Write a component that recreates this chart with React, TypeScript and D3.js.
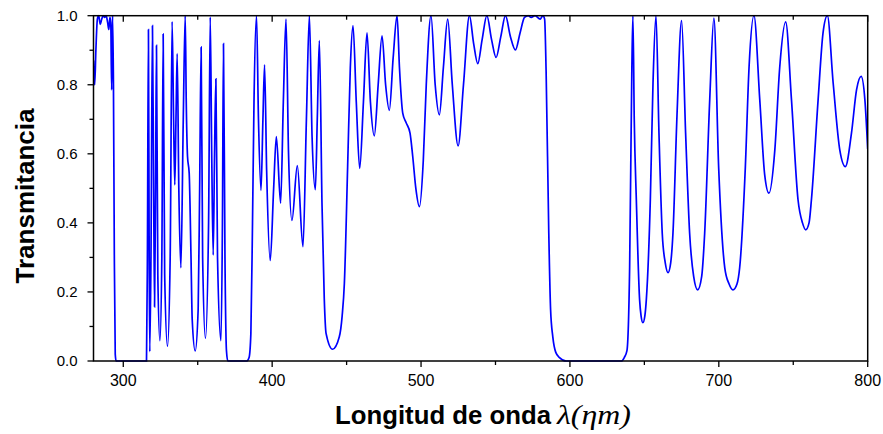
import React from "react";
import * as d3 from "d3";

const wavelength: number[] = [
  280.0, 280.8, 281.6, 282.6, 283.5, 284.5, 285.5, 286.5, 287.5, 288.5, 289.5, 290.3, 291.0, 291.6, 292.2, 292.8, 293.4, 294.0, 294.6, 295.2,
  315.6, 316.2, 316.9, 317.4, 317.8, 318.6, 319.6, 320.4, 321.0, 321.7, 322.3, 323.2, 324.6, 325.9, 326.8, 327.8, 329.7, 331.5, 332.8, 333.8,
  334.6, 335.4, 336.2, 337.3, 338.7, 340.3, 341.6, 342.3, 343.15, 344.27, 345.5, 346.3, 348.3, 350.3, 351.3, 352.3, 353.3, 355.2, 357.3, 358.4,
  359.4, 360.4, 361.3, 362.2, 363.3, 365.6, 366.6, 367.3, 368.3, 369.3, 370.2,
  383.0, 384.5, 385.7, 386.8, 387.8, 389.5, 390.8, 392.5, 393.8, 394.9, 396.3, 398.7, 401.0, 402.8, 405.7, 407.5, 409.3, 411.0, 413.3, 416.9,
  420.7, 423.0, 425.0, 426.8, 429.0, 430.3, 431.7, 433.5, 435.0, 436.2, 440.6, 445.1, 447.0, 448.5, 450.7, 452.5, 454.3, 456.5, 458.8, 461.3,
  463.7, 466.0, 468.6, 471.2, 473.8, 476.2, 478.7, 481.3, 483.9, 485.5, 487.7, 490.0, 492.6, 494.4, 496.5, 498.9, 501.5, 503.5, 506.7, 509.5,
  512.3, 515.0, 517.9, 521.0, 524.9, 528.5, 532.5, 535.3, 538.1, 541.0, 544.2, 547.4, 550.4, 553.6, 556.7, 560.0, 563.4, 566.5, 569.5, 572.0,
  574.0, 576.5, 580.0, 581.8, 583.0, 584.0, 585.8, 587.0, 588.5, 590.5, 593.0, 597.5,
  634.5, 636.5, 638.3, 640.1, 641.6, 642.3, 643.2, 644.6, 646.8, 647.8, 649.0, 650.3, 651.3, 654.0, 655.8, 657.8, 659.8, 662.0, 664.0, 665.9,
  667.7, 669.2, 671.9, 675.0, 677.7, 680.4, 683.1, 685.8, 688.5, 690.5, 693.9, 696.7, 699.9, 704.0, 706.9, 709.5, 712.2, 714.0, 717.8, 720.3,
  723.6, 727.5, 730.8, 733.7, 737.6, 740.9, 744.9, 748.8, 753.2, 756.2, 758.4, 760.6, 762.2, 766.7, 770.0, 772.9, 776.8, 781.3, 785.0, 789.1,
  792.5, 795.6, 798.1, 800.0,
];

const transmittance: number[] = [
  0.87, 0.80, 0.90, 0.99, 1.0, 0.975, 0.99, 1.0, 0.995, 1.0, 0.98, 0.96, 0.995, 0.98, 0.785, 1.0, 0.8, 0.3, 0.02, 0.0,
  0.0, 0.3, 0.96, 0.3, 0.027, 0.3, 0.971, 0.5, 0.157, 0.5, 0.914, 0.25, 0.059, 0.3, 0.947, 0.25, 0.043, 0.3, 0.983, 0.7,
  0.51, 0.7, 0.89, 0.5, 0.27, 0.7, 1.0, 0.75, 0.592, 0.544, 0.3, 0.12, 0.029, 0.15, 0.5, 0.909, 0.3, 0.066, 0.4, 0.996,
  0.6, 0.307, 0.6, 0.817, 0.3, 0.059, 0.4, 0.919, 0.3, 0.03, 0.0,
  0.0, 0.01, 0.08, 0.4, 0.75, 1.0, 0.7, 0.494, 0.7, 0.858, 0.55, 0.291, 0.5, 0.65, 0.457, 0.75, 0.99, 0.6, 0.407, 0.566,
  0.331, 0.7, 1.0, 0.65, 0.496, 0.7, 0.928, 0.45, 0.18, 0.08, 0.034, 0.07, 0.13, 0.225, 0.563, 0.85, 0.971, 0.75, 0.558, 0.75,
  0.95, 0.75, 0.652, 0.8, 0.942, 0.8, 0.726, 0.88, 1.0, 0.85, 0.718, 0.69, 0.66, 0.593, 0.5, 0.447, 0.58, 0.8, 1.0, 0.8,
  0.713, 0.85, 0.99, 0.8, 0.623, 0.8, 1.0, 0.92, 0.861, 0.93, 1.0, 0.93, 0.879, 0.94, 1.0, 0.94, 0.901, 0.95, 0.995, 1.0,
  0.995, 1.0, 0.99, 1.0, 0.99, 0.84, 0.37, 0.15, 0.07, 0.025, 0.01, 0.0,
  0.0, 0.01, 0.03, 0.27, 0.85, 1.0, 0.7, 0.467, 0.177, 0.13, 0.111, 0.13, 0.177, 0.467, 0.805, 1.0, 0.66, 0.37, 0.285, 0.256,
  0.285, 0.37, 0.71, 0.986, 0.66, 0.37, 0.245, 0.206, 0.245, 0.37, 0.757, 0.993, 0.56, 0.27, 0.223, 0.206, 0.223, 0.27, 0.56, 0.85,
  1.0, 0.757, 0.54, 0.486, 0.61, 0.85, 0.982, 0.757, 0.467, 0.40, 0.38, 0.40, 0.467, 0.757, 0.95, 1.0, 0.805, 0.61, 0.563, 0.66,
  0.785, 0.824, 0.757, 0.614,
];

const xTickValues: number[] = [300, 400, 500, 600, 700, 800];
const xMinorValues: number[] = [350, 450, 550, 650, 750];
const yTickValues: number[] = [0.0, 0.2, 0.4, 0.6, 0.8, 1.0];
const yMinorValues: number[] = [0.1, 0.3, 0.5, 0.7, 0.9];
const yTitle = "Transmitancia";
const xTitle = "Longitud de onda";
const xTitleUnit = "λ(ηm)";

const W = 883;
const H = 434;
const left = 93.5;
const right = 867.7;
const top = 15.7;
const bottom = 361;

export default function App() {
  const x = d3.scaleLinear().domain([280, 800]).range([left, right]);
  const y = d3.scaleLinear().domain([0, 1]).range([bottom, top]);
  const pts: [number, number][] = wavelength.map((w, i) => [w, transmittance[i]]);
  const line = d3
    .line<[number, number]>()
    .x((d) => x(d[0]))
    .y((d) => y(d[1]))
    .curve(d3.curveMonotoneX);
  const font = "'Liberation Sans', Arial, sans-serif";
  return (
    <div style={{ position: "absolute", left: 0, top: 0 }}>
      <svg width={W} height={H} style={{ display: "block", background: "#fff" }}>
        <defs>
          <clipPath id="plotclip">
            <rect x={left} y={top - 1} width={right - left} height={bottom - top + 2} />
          </clipPath>
        </defs>
        <path d={line(pts) || ""} fill="none" stroke="#0000ff" strokeWidth={1.7} clipPath="url(#plotclip)" />
        <rect x={left} y={top} width={right - left} height={bottom - top} fill="none" stroke="#000" strokeWidth={1.5} />
        {xTickValues.map((v) => (
          <g key={"xt" + v}>
            <line x1={x(v)} x2={x(v)} y1={bottom} y2={bottom + 6} stroke="#000" strokeWidth={1.3} />
            <line x1={x(v)} x2={x(v)} y1={top} y2={top + 6} stroke="#000" strokeWidth={1.3} />
            <text x={x(v)} y={386} textAnchor="middle" fontFamily={font} fontSize={16} fill="#000">
              {v}
            </text>
          </g>
        ))}
        {xMinorValues.map((v) => (
          <g key={"xm" + v}>
            <line x1={x(v)} x2={x(v)} y1={bottom} y2={bottom + 4} stroke="#000" strokeWidth={1.3} />
            <line x1={x(v)} x2={x(v)} y1={top} y2={top + 4} stroke="#000" strokeWidth={1.3} />
          </g>
        ))}
        {yTickValues.map((v) => (
          <g key={"yt" + v}>
            <line x1={left - 6} x2={left} y1={y(v)} y2={y(v)} stroke="#000" strokeWidth={1.3} />
            <text x={77.5} y={y(v) + 5.3} textAnchor="end" fontFamily={font} fontSize={15} fill="#000">
              {v.toFixed(1)}
            </text>
          </g>
        ))}
        {yMinorValues.map((v) => (
          <line key={"ym" + v} x1={left - 4} x2={left} y1={y(v)} y2={y(v)} stroke="#000" strokeWidth={1.3} />
        ))}
        <text
          transform={`translate(33.5, 196) rotate(-90)`}
          textAnchor="middle"
          fontFamily={font}
          fontWeight="bold"
          fontSize={26}
          textLength={175}
          lengthAdjust="spacingAndGlyphs"
          fill="#000"
        >
          {yTitle}
        </text>
        <text
          x={335}
          y={424}
          textAnchor="start"
          fontFamily={font}
          fontWeight="bold"
          fontSize={25.5}
          textLength={216}
          lengthAdjust="spacingAndGlyphs"
          fill="#000"
        >
          {xTitle}
        </text>
        <text
          x={557}
          y={424}
          textAnchor="start"
          fontFamily="'Liberation Serif', 'DejaVu Serif', serif"
          fontStyle="italic"
          fontSize={27}
          textLength={74}
          lengthAdjust="spacingAndGlyphs"
          fill="#000"
        >
          {xTitleUnit}
        </text>
      </svg>
    </div>
  );
}
